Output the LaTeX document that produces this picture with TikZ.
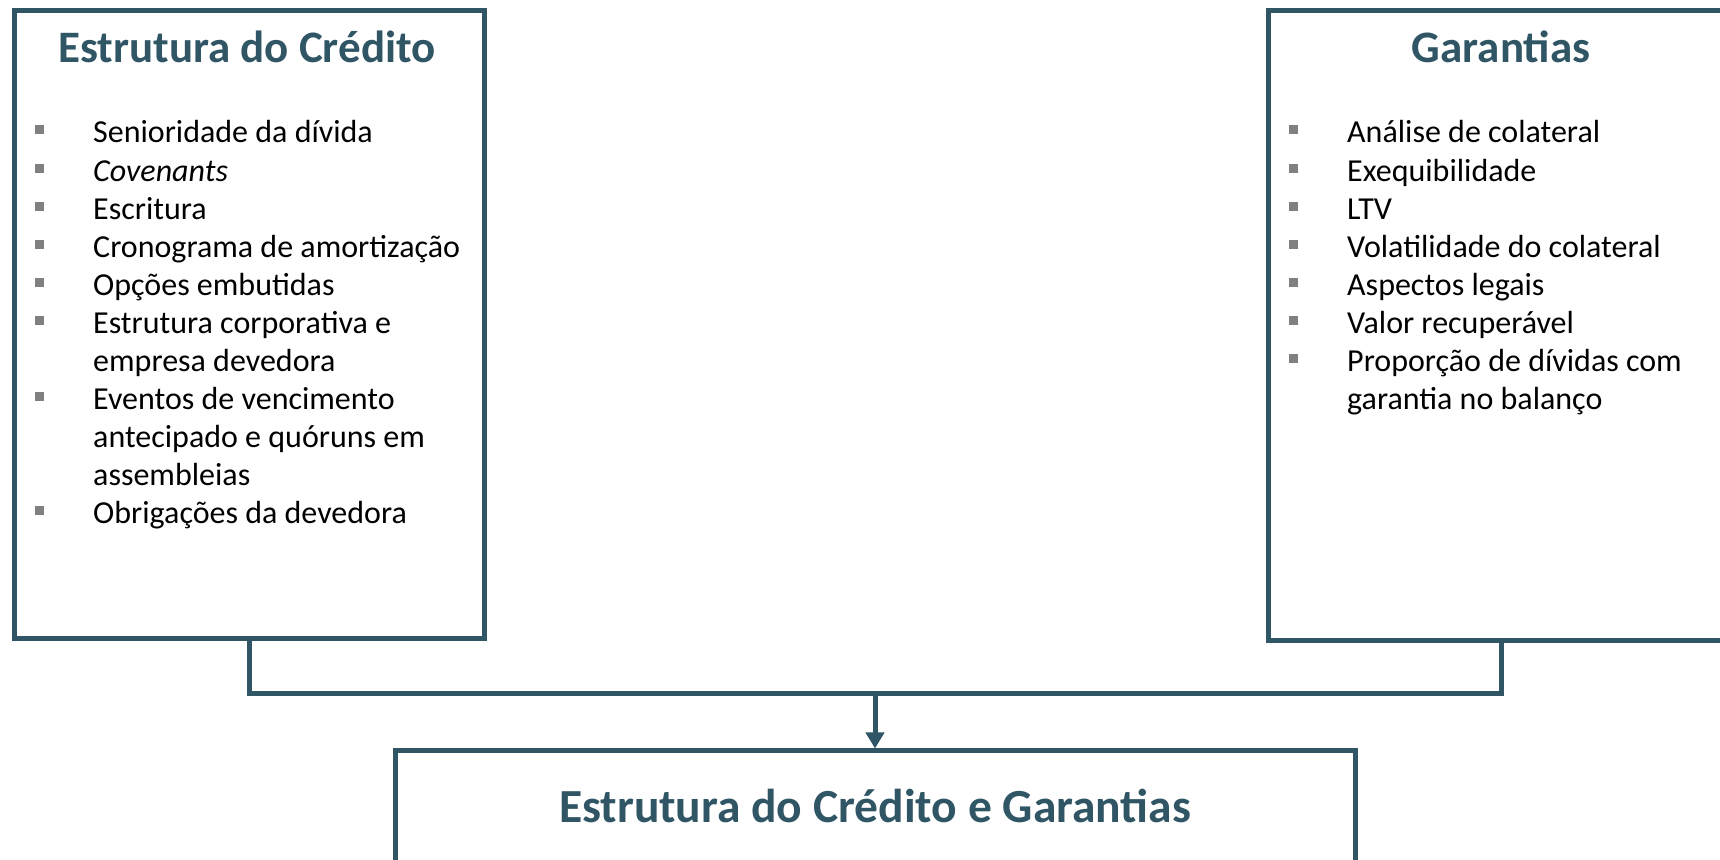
\documentclass[tikz,border=0pt]{standalone}
\usepackage{fontspec}
\setmainfont{Carlito}
\usepackage{tikz}
\usetikzlibrary{arrows.meta}
\definecolor{azul}{HTML}{305565}
\definecolor{marca}{HTML}{808080}
\newcommand{\marcador}{\textcolor{marca}{\rule[8.5pt]{9pt}{9pt}}}

\begin{document}
\begin{tikzpicture}[x=1pt,y=1pt,
  caixa/.style={draw=azul, line width=5pt, inner sep=0pt},
  titulo/.style={text=azul, font=\fontsize{45}{54}\selectfont\bfseries, inner sep=0pt, anchor=base},
  lista/.style={font=\fontsize{32}{38.1}\selectfont, inner sep=0pt, anchor=base west},
  conector/.style={draw=azul, line width=5pt}]
\useasboundingbox (0,0) rectangle (1720,859);
% caixas
\node[caixa, minimum width=470pt, minimum height=628pt] (credito) at (249,534) {};
\node[caixa, minimum width=466pt, minimum height=630pt] (garantias) at (1501,533) {};
\node[caixa, minimum width=960pt, minimum height=250pt] (final) at (875,-17) {};
\coordinate (juncao) at (875,165);
% titulos
\node[titulo] (tcredito) at (247,796) {Estrutura do Crédito};
\node[titulo] (tgarantias) at (1501,796) {Garantias};
\node[titulo, font=\fontsize{47.5}{57}\selectfont\bfseries] (tfinal) at (875,37) {Estrutura do Crédito e Garantias};
% listas
\node[lista] (lcredito) at (35,716) {\begin{tabular}[t]{@{}l@{\hspace{49pt}}l@{}}
\marcador & Senioridade da dívida\\
\marcador & \textit{Covenants}\\
\marcador & Escritura\\
\marcador & Cronograma de amortização\\
\marcador & Opções embutidas\\
\marcador & Estrutura corporativa e\\
          & empresa devedora\\
\marcador & Eventos de vencimento\\
          & antecipado e quóruns em\\
          & assembleias\\
\marcador & Obrigações da devedora
\end{tabular}};
\node[lista] (lgarantias) at (1289,716) {\begin{tabular}[t]{@{}l@{\hspace{49pt}}l@{}}
\marcador & Análise de colateral\\
\marcador & Exequibilidade\\
\marcador & LTV\\
\marcador & Volatilidade do colateral\\
\marcador & Aspectos legais\\
\marcador & Valor recuperável\\
\marcador & Proporção de dívidas com\\
          & garantia no balanço
\end{tabular}};
% conectores
\draw[conector] (credito.south) |- (juncao) -| (garantias.south);
\draw[conector, -{Triangle[width=18pt,length=16pt]}] (juncao) -- (final.north);
\end{tikzpicture}
\end{document}
